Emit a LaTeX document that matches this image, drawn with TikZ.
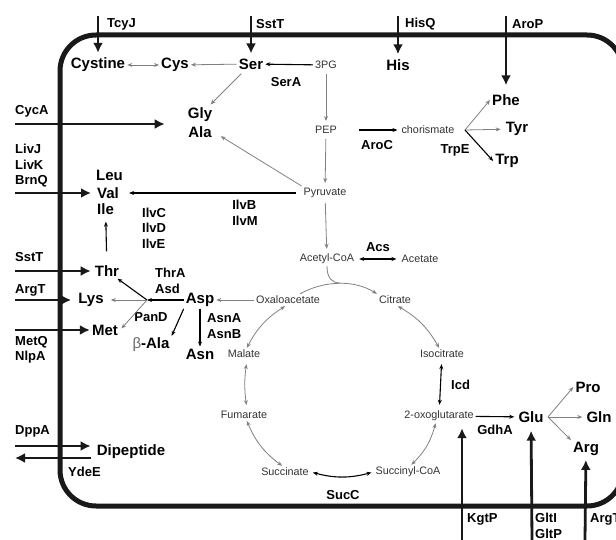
\documentclass[tikz,border=0pt]{standalone}
\usepackage{fontspec}
\setmainfont{Liberation Sans}
\usetikzlibrary{arrows.meta, calc}

\begin{document}
\begin{tikzpicture}[x=1pt, y=-1pt, >={Stealth[length=5pt,width=4pt]},
    aa/.style={font=\bfseries\fontsize{15}{17}\selectfont, inner sep=2pt},
    enz/.style={font=\bfseries\fontsize{13}{15.5}\selectfont, inner sep=0pt, align=left},
    met/.style={font=\fontsize{10.8}{13}\selectfont, text=black!80, inner sep=2pt},
    flow/.style={->, black!50, line width=0.8pt},
    rxn/.style={->, black, line width=1.1pt},
    tport/.style={-{Latex[length=10pt,width=10pt]}, line width=2.8pt, black!90}]
    \useasboundingbox (0,0) rectangle (616,540);
    \clip (0,0) rectangle (616,540);
    \draw[line width=5pt, black!90, rounded corners=36pt] (60,35) rectangle (623,506);

    \node[aa] (Cystine) at (98,65) {Cystine};
    \node[aa] (Cys) at (175,65) {Cys};
    \node[aa] (Ser) at (251,64) {Ser};
    \node[met] (PG) at (326,65) {3PG};
    \node[aa] (His) at (398,65) {His};
    \node[aa] (Gly) at (200,115) {Gly};
    \node[aa] (Ala) at (200,132) {Ala};
    \node[met] (PEP) at (326,130) {PEP};
    \node[met] (Chor) at (428,130) {chorismate};
    \node[aa] (Phe) at (506,100) {Phe};
    \node[aa] (Tyr) at (517,129) {Tyr};
    \node[aa] (Trp) at (507,161) {Trp};
    \node[aa, anchor=west] (Leu) at (94,175) {Leu};
    \node[aa, anchor=west] (Val) at (95,193) {Val};
    \node[aa, anchor=west] (Ile) at (95,209) {Ile};
    \node[met] (Pyr) at (325,193) {Pyruvate};
    \node[met] (AcCoA) at (327,259) {Acetyl-CoA};
    \node[met] (Acetate) at (420,259) {Acetate};
    \node[aa] (Thr) at (107,271) {Thr};
    \node[aa] (Lys) at (91,300) {Lys};
    \node[aa] (Met) at (105,330) {Met};
    \node[aa] (Asp) at (200,300) {Asp};
    \node[met] (Oxa) at (288,300) {Oxaloacetate};
    \node[met] (Cit) at (395,300) {Citrate};
    \node[aa] (bAla) at (151,345) {{\mdseries\color{black!60}β}-Ala};
    \node[aa] (Asn) at (200,354) {Asn};
    \node[met] (Mal) at (244,354) {Malate};
    \node[met] (Iso) at (442,354) {Isocitrate};
    \node[met] (Fum) at (244,415) {Fumarate};
    \node[met] (Oxo) at (439,416) {2-oxoglutarate};
    \node[aa] (Glu) at (531,417) {Glu};
    \node[aa] (Pro) at (588,387) {Pro};
    \node[aa] (Gln) at (599,417) {Gln};
    \node[aa] (Arg) at (586,449) {Arg};
    \node[aa] (Dip) at (131,452) {Dipeptide};
    \node[met] (Suc) at (285,472) {Succinate};
    \node[met] (SucCoA) at (408,472) {Succinyl-CoA};

    \node[enz, anchor=west] (TcyJ) at (107,24) {TcyJ};
    \node[enz, anchor=west] (SstTa) at (256,24) {SstT};
    \node[enz, anchor=west] (HisQ) at (405,24) {HisQ};
    \node[enz, anchor=west] (AroP) at (512,24) {AroP};
    \node[enz] (SerA) at (286,82) {SerA};
    \node[enz, anchor=west] (CycA) at (15,111) {CycA};
    \node[enz, anchor=west] (LivJ) at (15,166) {LivJ\\LivK\\BrnQ};
    \node[enz] (IlvB) at (245,213) {IlvB\\IlvM};
    \node[enz, anchor=west] (IlvC) at (142,228) {IlvC\\IlvD\\IlvE};
    \node[enz, anchor=west] (SstTb) at (15,257) {SstT};
    \node[enz, anchor=west] (ThrA) at (155,281) {ThrA\\Asd};
    \node[enz, anchor=west] (ArgTa) at (15,290) {ArgT};
    \node[enz] (PanD) at (151,317) {PanD};
    \node[enz, anchor=west] (AsnA) at (207,326) {AsnA\\AsnB};
    \node[enz, anchor=west] (MetQ) at (15,350) {MetQ\\NlpA};
    \node[enz] (AroC) at (377,145) {AroC};
    \node[enz] (TrpE) at (455,150) {TrpE};
    \node[enz] (Acs) at (378,247) {Acs};
    \node[enz, anchor=west] (Icd) at (451,385) {Icd};
    \node[enz] (GdhA) at (495,430) {GdhA};
    \node[enz] (SucC) at (343,495) {SucC};
    \node[enz, anchor=west] (DppA) at (15,431) {DppA};
    \node[enz, anchor=west] (YdeE) at (68,472) {YdeE};
    \node[enz, anchor=west] (KgtP) at (467,519) {KgtP};
    \node[enz, anchor=west] (GltI) at (535,526) {GltI\\GltP};
    \node[enz, anchor=west] (ArgTb) at (590,519) {ArgT};

    \coordinate (aspbr) at (147,300);
    \coordinate (chobr) at (465,130);
    \coordinate (glubr) at (548,417);

    \draw[flow, <->] (Cystine) -- (Cys);
    \draw[flow] (Ser) -- (Cys);
    \draw[rxn] (PG) -- (Ser);
    \draw[flow, shorten <=3pt, shorten >=2pt] (Ser) -- (Gly);
    \draw[flow, shorten >=8pt] (Pyr.north west) -- (Ala.east);
    \draw[flow, shorten <=3pt, shorten >=3pt] (PG) -- (PEP);
    \draw[flow, shorten <=3pt, shorten >=3pt] (PEP) -- (Pyr);
    \draw[flow, shorten <=3pt, shorten >=3pt] (Pyr) -- (AcCoA);
    \draw[rxn, shorten <=20pt, shorten >=2pt] (PEP) -- (Chor);
    \draw[rxn, shorten <=5pt, shorten >=8pt] (Pyr) -- (Val);
    \draw[rxn, shorten <=12pt, shorten >=5pt] (Thr) -- (Ile);
    \draw[flow] (chobr) -- (Phe.west);
    \draw[flow, shorten >=3pt] (chobr) -- (Tyr);
    \draw[rxn] (chobr) -- (Trp.west);

    \draw[rxn] (Asp) -- (aspbr);
    \draw[rxn] (aspbr) -- (Thr);
    \draw[flow, shorten >=5pt] (aspbr) -- (Lys);
    \draw[flow, shorten >=2pt] (aspbr) -- (Met.east);
    \draw[rxn] (Asp.south west) -- (bAla.north east);
    \draw[rxn] (Asp) -- (Asn);
    \draw[flow] (Oxa) -- (Asp);

    \draw[rxn, <->, shorten <=3pt, shorten >=3pt] (AcCoA) -- (Acetate);
    \draw[flow] ([xshift=12pt]Oxa.north) .. controls (325,280) and (355,280) .. (Cit.north west);
    \draw[black!50, line width=0.8pt] (AcCoA.south) .. controls (327,278) and (332,283) .. (340,283);
    \draw[flow, <->] (Cit.-65) to[bend left=15] (Iso.115);
    \draw[rxn, <->, shorten <=4pt, shorten >=4pt] (Iso) -- (Oxo);
    \draw[flow, <->] (Oxo.-115) to[bend left=15] (SucCoA.65);
    \draw[rxn, <->, shorten <=2pt, shorten >=2pt] (SucCoA.west) to[bend left=15] (Suc.east);
    \draw[flow, <->] (Suc.115) to[bend left=15] (Fum.-65);
    \draw[flow, <->, shorten <=4pt, shorten >=4pt] ([xshift=3pt]Fum.north) to[bend left=8] ([xshift=3pt]Mal.south);
    \draw[flow, <->] (Mal.65) to[bend left=15] (Oxa.-115);

    \draw[rxn, shorten >=2pt] (Oxo) -- (Glu);
    \draw[flow] (glubr) -- (Pro.west);
    \draw[flow, shorten >=2pt] (glubr) -- (Gln);
    \draw[flow] (glubr) -- (Arg.north west);

    \coordinate (tcyjout) at (98,16);
    \coordinate (sstaout) at (251,16);
    \coordinate (hisqout) at (398,16);
    \coordinate (aropout) at (506,16);
    \coordinate (cycaout) at (15,124);
    \coordinate (livout) at (15,193);
    \coordinate (sstbout) at (15,271);
    \coordinate (argtaout) at (15,300);
    \coordinate (metqout) at (15,330);
    \coordinate (dppaout) at (15,446);
    \coordinate (ydeeout) at (15,458);
    \coordinate (kgtpout) at (462,540);
    \coordinate (gltout) at (532,540);
    \coordinate (argtbout) at (585,540);

    \draw[tport, shorten >=3pt] (tcyjout) -- (Cystine);
    \draw[tport, shorten >=3pt] (sstaout) -- (Ser);
    \draw[tport, shorten >=3pt] (hisqout) -- (His);
    \draw[tport, shorten >=7pt] (aropout) -- (Phe);
    \draw[tport, shorten >=21pt] (cycaout) -- (cycaout -| Gly.west);
    \draw[tport, shorten >=4pt] (livout) -- (Val);
    \draw[tport, shorten >=2pt] (sstbout) -- (Thr);
    \draw[tport, shorten >=5pt] (argtaout) -- (Lys);
    \draw[tport] (metqout) -- (Met);
    \draw[tport, shorten >=4pt] (dppaout) -- (dppaout -| Dip.west);
    \draw[tport, shorten <=4pt] (ydeeout -| Dip.west) -- (ydeeout);
    \draw[tport, shorten >=5pt] (kgtpout) -- (kgtpout |- Oxo.south);
    \draw[tport, shorten >=6pt] (gltout) -- (Glu);
    \draw[tport, shorten >=2pt] (argtbout) -- (Arg);
\end{tikzpicture}
\end{document}
